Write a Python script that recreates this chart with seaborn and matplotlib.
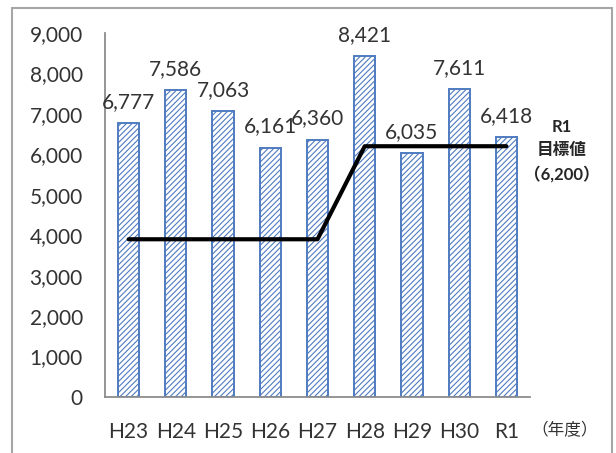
import matplotlib.pyplot as plt
import matplotlib.patches as mpatches
from matplotlib.ticker import FuncFormatter
import pandas as pd
import seaborn as sns

# データ
years = ['H23', 'H24', 'H25', 'H26', 'H27', 'H28', 'H29', 'H30', 'R1']
counts = [6777, 7586, 7063, 6161, 6360, 8421, 6035, 7611, 6418]
target = [3900, 3900, 3900, 3900, 3900, 6200, 6200, 6200, 6200]

data = pd.DataFrame({'year': years, 'count': counts, 'target': target})

sns.set_style('white')
plt.rcParams['font.family'] = ['Lato', 'Noto Sans CJK JP', 'DejaVu Sans']
plt.rcParams['hatch.linewidth'] = 0.8

fig = plt.figure(figsize=(6.16, 4.53), dpi=100)
ax = fig.add_axes([0.1705, 0.1236, 0.6899, 0.8036])

# 棒グラフ（斜線）
sns.barplot(data=data, x='year', y='count', ax=ax, color='white', saturation=1,
            edgecolor='#4F7BC0', linewidth=1.4, hatch='//////', width=0.45)

# 目標値の折れ線
sns.lineplot(data=data, x='year', y='target', ax=ax, color='black',
             linewidth=3, sort=False)

# 値ラベル
for i, v in enumerate(counts):
    ax.annotate(f'{v:,}', (i, v), xytext=(0, 11), textcoords='offset points',
                ha='center', va='baseline', fontsize=15, color='#333333')

ax.set_xlim(-0.5, 8.5)
ax.set_ylim(0, 9000)
ax.set_yticks(range(0, 9001, 1000))
ax.yaxis.set_major_formatter(FuncFormatter(lambda v, p: f'{v:,.0f}'))
ax.set_xlabel('')
ax.set_ylabel('')
ax.tick_params(axis='both', length=0, labelsize=15, labelcolor='#333333')
ax.tick_params(axis='y', pad=16)
ax.tick_params(axis='x', pad=18)

for side in ['top', 'right']:
    ax.spines[side].set_visible(False)
for side in ['left', 'bottom']:
    ax.spines[side].set_color('#8C8C8C')
    ax.spines[side].set_linewidth(1.3)

# 注記
fig.text(0.917, 0.051, '（年度）', ha='center', va='center', fontsize=12, color='#333333')
fig.text(0.912, 0.720, 'R1', ha='center', va='center', fontsize=12, fontweight='bold')
fig.text(0.912, 0.669, '目標値', ha='center', va='center', fontsize=12, fontweight='bold')
fig.text(0.912, 0.616, '（6,200）', ha='center', va='center', fontsize=12, fontweight='bold')

# 外枠
fig.patches.append(mpatches.Rectangle((0.0195, -0.1), 0.974, 1.082, transform=fig.transFigure,
                                      fill=False, edgecolor='#A6A6A6', linewidth=1.5))

plt.savefig('out.png', dpi=100)
